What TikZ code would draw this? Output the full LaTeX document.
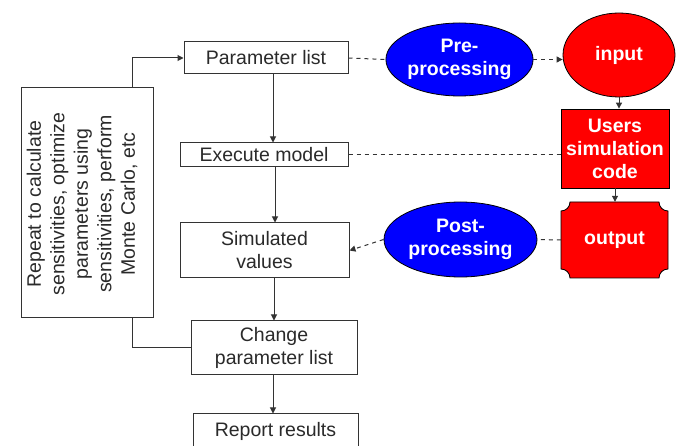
\documentclass[tikz,border=0pt]{standalone}
\usepackage{fontspec}
\setmainfont{Liberation Sans}
\usetikzlibrary{arrows.meta,shapes.geometric}
\definecolor{txt}{HTML}{2A2A2A}
\definecolor{ln}{HTML}{333333}
\tikzset{
  base/.style={inner sep=0pt, align=center, font=\fontsize{19.5}{23}\selectfont, text=txt},
  wbox/.style={base, draw=ln, line width=1pt, fill=white},
  blueell/.style={base, ellipse, draw=black, line width=0.8pt, fill=blue, text=white, font=\fontsize{19.5}{23}\selectfont\bfseries},
  redell/.style={base, ellipse, draw=black, line width=0.8pt, fill=red, text=white, font=\fontsize{19.5}{23}\selectfont\bfseries},
  redbox/.style={base, draw=black, line width=0.8pt, fill=red, text=white, font=\fontsize{19.5}{23}\selectfont\bfseries},
  conn/.style={draw=ln, line width=1pt},
  arr/.style={conn, -{Triangle[width=6pt,length=6pt]}},
  dconn/.style={draw=ln, line width=1pt, dash pattern=on 4pt off 4pt},
  darr/.style={dconn, -{Triangle[width=6pt,length=6pt]}}
}
\begin{document}
\begin{tikzpicture}[x=1pt,y=-1pt]
\useasboundingbox (0,0) rectangle (678,446);
% left column boxes
\node[wbox, minimum width=164pt, minimum height=32pt] (plist) at (266,58) {Parameter list};
\node[wbox, minimum width=168pt, minimum height=24pt] (exec) at (264,155) {Execute model};
\node[wbox, minimum width=169pt, minimum height=55pt] (sim) at (264.5,250.5) {Simulated\\values};
\node[wbox, minimum width=166pt, minimum height=54pt] (change) at (274,348) {Change\\parameter list};
\node[wbox, minimum width=165pt, minimum height=34pt] (report) at (275.5,431) {Report results};
\node[wbox, minimum width=132pt, minimum height=230pt] (repeat) at (87,203) {};
\node[base, rotate=90, font=\fontsize{19.5}{23.5}\selectfont] (repeattxt) at (82,204) {Repeat to calculate\\sensitivities, optimize\\parameters using\\sensitivities, perform\\Monte Carlo, etc};
% right side
\node[blueell, minimum width=145pt, minimum height=73pt] (pre) at (459.5,59.5) {Pre-\\processing};
\node[redell, minimum width=112pt, minimum height=84pt] (input) at (619,55) {input};
\node[redbox, minimum width=108pt, minimum height=79pt] (users) at (615,148.5) {Users\\simulation\\code};
\node[base, text=white, font=\fontsize{19.5}{23}\selectfont\bfseries, minimum width=107pt, minimum height=76pt] (output) at (614.5,240) {};
\draw[fill=red, draw=black, line width=0.8pt]
  (561,211) .. controls (566,211) and (570,207) .. (570,202)
  -- (659,202) .. controls (659,207) and (663,211) .. (668,211)
  -- (668,269) .. controls (663,269) and (659,273) .. (659,278)
  -- (570,278) .. controls (570,273) and (566,269) .. (561,269) -- cycle;
\node[base, text=white, font=\fontsize{19.5}{23}\selectfont\bfseries] (outtxt) at (output.center) {output};
\node[blueell, minimum width=153pt, minimum height=75pt] (post) at (460.5,239.5) {Post-\\processing};
% helper coordinates
\coordinate (xa) at (273,0);
\coordinate (xb) at (275,0);
\coordinate (xc) at (274,0);
\coordinate (xl) at (132,0);
% solid connectors
\draw[arr] (plist.south -| xa) -- (exec.north -| xa);
\draw[arr] (exec.south -| xb) -- (sim.north -| xb);
\draw[arr] (sim.south -| xc) -- (change.north -| xc);
\draw[arr] (change.south -| xa) -- (report.north -| xa);
\draw[arr] (repeat.north -| xl) |- (plist.west);
\draw[conn] (repeat.south -| xl) |- (change.west);
\draw[arr] (input.south) -- (input.south |- users.north);
\draw[arr] (users.south) -- (users.south |- output.north);
% dashed connectors
\draw[dconn] (plist.east) -- (pre.west);
\draw[darr] (pre.east) -- (input.west |- pre.east);
\draw[dconn] (exec.east) -- (exec.east -| users.west);
\draw[dconn] (output.west) -- (post.east);
\draw[darr] (post.west) -- (sim.east);
\end{tikzpicture}
\end{document}
